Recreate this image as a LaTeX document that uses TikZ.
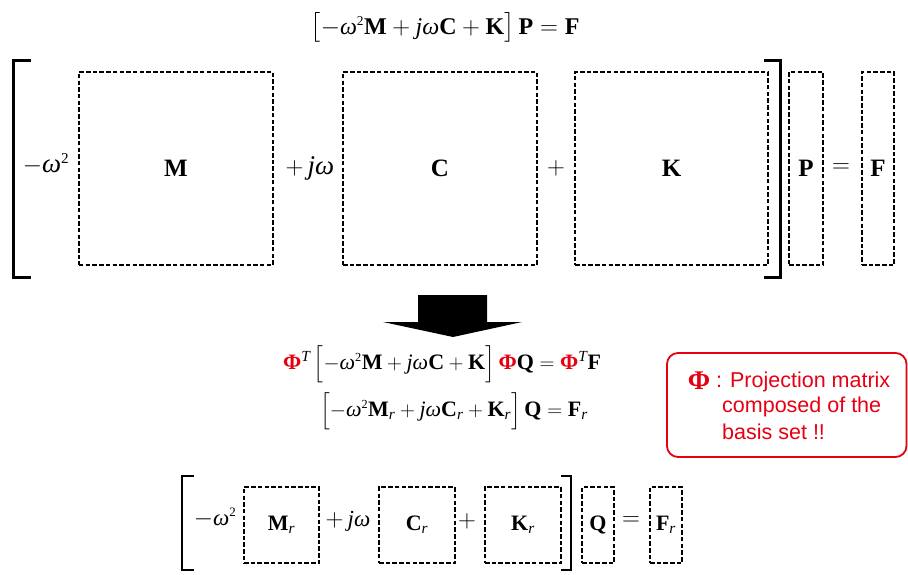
\documentclass[tikz,border=0pt]{standalone}
\usepackage{amsmath}
\usepackage{fontspec}
\setmainfont{Liberation Serif}
\setsansfont{Liberation Sans}
\definecolor{myred}{RGB}{230,0,18}
\newcommand{\om}{\textit{ω}}
\newcommand{\bb}[1]{\textbf{#1}}
\newcommand{\jj}{\textit{j}}
\newcommand{\rsub}{_{\textit{r}}}
\newcommand{\sqtwo}{^{\text{\fontsize{0.8em}{1em}\selectfont 2}}}
\newcommand{\Phired}{\textcolor{myred}{\bb{Φ}}}
\begin{document}
\begin{tikzpicture}[x=1bp,y=-1bp,
  mbox/.style={draw, line width=1.2bp, dash pattern=on 4.5bp off 2.2bp, inner sep=0pt},
  lbl/.style={inner sep=0pt, font=\fontsize{25bp}{28bp}\selectfont},
  olbl/.style={inner sep=0pt, font=\fontsize{27bp}{30bp}\selectfont},
  slbl/.style={inner sep=0pt, font=\fontsize{22bp}{26bp}\selectfont},
  solbl/.style={inner sep=0pt, font=\fontsize{23bp}{26bp}\selectfont},
  eqn/.style={inner sep=0pt, font=\fontsize{22bp}{26bp}\selectfont},
  bracket/.style={line width=3bp},
  note/.style={inner sep=0pt, anchor=west, text=myred, font=\sffamily\fontsize{21.5bp}{25bp}\selectfont}]
\useasboundingbox (0,0) rectangle (908,575);

% top equation
\node[eqn, font=\fontsize{24bp}{28bp}\selectfont] (eq1) at (445,28) {$\left[\vrule height 14bp depth 9bp width 0pt -\om\sqtwo\bb{M}+\jj\om\bb{C}+\bb{K}\right]\bb{P}=\bb{F}$};

% big matrices
\node[mbox, minimum width=194bp, minimum height=193bp] (M) at (176,168.5) {};
\node[mbox, minimum width=194bp, minimum height=193bp] (C) at (440,168.5) {};
\node[mbox, minimum width=193bp, minimum height=193bp] (K) at (671.5,168.5) {};
\node[mbox, minimum width=34bp, minimum height=193bp] (P) at (806,168.5) {};
\node[mbox, minimum width=32bp, minimum height=193bp] (F) at (878,168.5) {};
\node[lbl] (Ml) at (M.center) {$\bb{M}$};
\node[lbl] (Cl) at (C.center) {$\bb{C}$};
\node[lbl] (Kl) at (K.center) {$\bb{K}$};
\node[lbl] (Pl) at (P.center) {$\bb{P}$};
\node[lbl] (Fl) at (F.center) {$\bb{F}$};
\node[olbl] (o1) at (46,164) {$-\om\sqtwo$};
\node[olbl] (o2) at (310,168) {$+\,\jj\om$};
\node[olbl] (p1) at (556,168) {$+$};
\node[olbl] (e1) at (841,168) {$=$};
\draw[bracket] (31,61) -- (13,61) -- (13,277) -- (31,277);
\draw[bracket] (764,61) -- (780,61) -- (780,277) -- (764,277);

% arrow
\fill (418,295) -- (487,295) -- (487,322) -- (522,322) -- (453,337) -- (383,322) -- (418,322) -- cycle;

% projected equations
\node[eqn] (eq2) at (442,364) {$\Phired^{\textit{T}}\left[\vrule height 17bp depth 11bp width 0pt -\om\sqtwo\bb{M}+\jj\om\bb{C}+\bb{K}\right]\Phired\bb{Q}=\Phired^{\textit{T}}\bb{F}$};
\node[eqn] (eq3) at (454,411) {$\left[\vrule height 17bp depth 11bp width 0pt -\om\sqtwo\bb{M}\rsub+\jj\om\bb{C}\rsub+\bb{K}\rsub\right]\bb{Q}=\bb{F}\rsub$};

% note box
\draw[myred, line width=1.8bp, rounded corners=11bp] (667,353) rectangle (906.5,457);
\node[inner sep=0pt, text=myred, font=\fontsize{27bp}{30bp}\selectfont] (phi) at (699,381) {\bb{Φ}};
\node[note] (n1) at (716,382) {: Projection matrix};
\node[note] (n2) at (722,407) {composed of the};
\node[note] (n3) at (722,432) {basis set !!};

% reduced matrices
\node[mbox, minimum width=75bp, minimum height=76bp] (Mr) at (281.5,525) {};
\node[mbox, minimum width=76bp, minimum height=76bp] (Cr) at (417,525) {};
\node[mbox, minimum width=76bp, minimum height=76bp] (Kr) at (523,525) {};
\node[mbox, minimum width=32bp, minimum height=76bp] (Q) at (598,525) {};
\node[mbox, minimum width=32bp, minimum height=76bp] (Fr) at (666,525) {};
\node[slbl] (Mrl) at (Mr.center) {$\bb{M}\rsub$};
\node[slbl] (Crl) at (Cr.center) {$\bb{C}\rsub$};
\node[slbl] (Krl) at (Kr.center) {$\bb{K}\rsub$};
\node[slbl] (Ql) at (Q.center) {$\bb{Q}$};
\node[slbl] (Frl) at (Fr.center) {$\bb{F}\rsub$};
\node[solbl] (o3) at (215,518) {$-\om\sqtwo$};
\node[solbl] (o4) at (348,521) {$+\,\jj\om$};
\node[solbl] (p2) at (467,521) {$+$};
\node[solbl] (e2) at (631,521) {$=$};
\draw[bracket, line width=2.6bp] (194,476) -- (182,476) -- (182,570) -- (194,570);
\draw[bracket, line width=2.6bp] (561,476) -- (571,476) -- (571,570) -- (561,570);
\end{tikzpicture}
\end{document}
